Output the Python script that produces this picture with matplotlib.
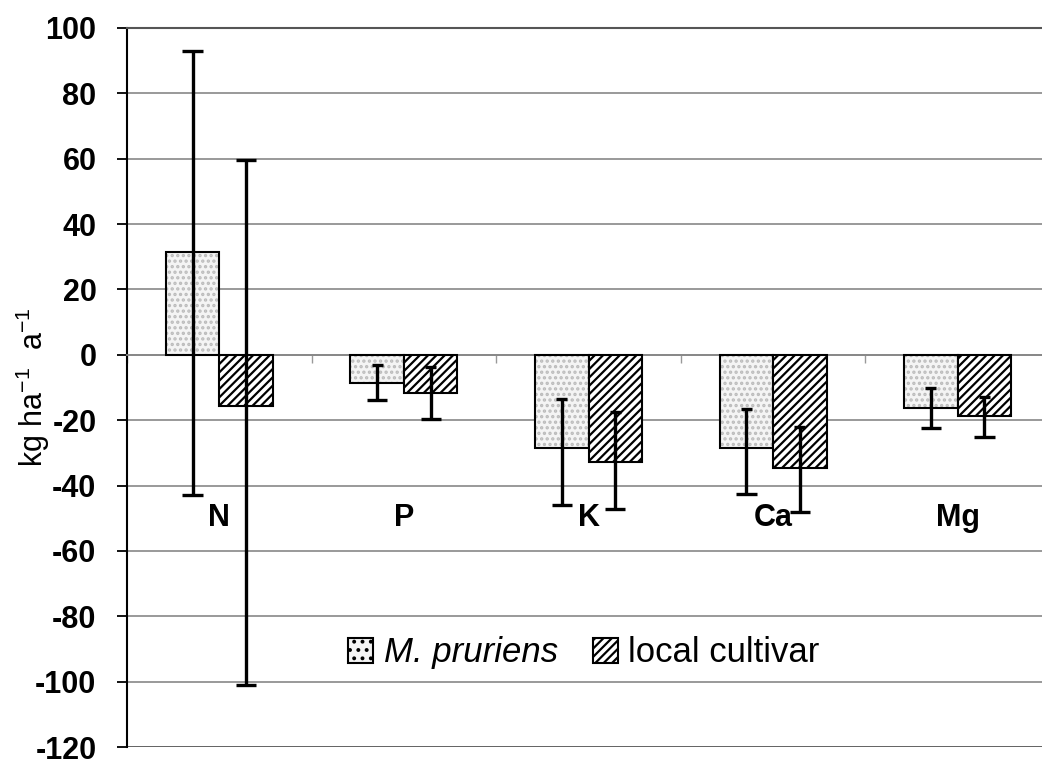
import matplotlib
matplotlib.use("Agg")
import matplotlib.pyplot as plt
import numpy as np

plt.rcParams['font.family'] = ['Liberation Sans', 'DejaVu Sans']
plt.rcParams['mathtext.fontset'] = 'custom'
plt.rcParams['mathtext.rm'] = 'Liberation Sans'
plt.rcParams['mathtext.it'] = 'Liberation Sans:italic'
plt.rcParams['hatch.linewidth'] = 1.6

nutrients = ["N", "P", "K", "Ca", "Mg"]
series = ["M. pruriens", "local cultivar"]

pruriens = [31.5, -8.6, -28.6, -28.6, -16.2]
pruriens_lo = [-43, -13.9, -46, -42.6, -22.4]
pruriens_hi = [93, -3.1, -13.4, -16.7, -10.3]

local = [-15.7, -11.6, -32.8, -34.5, -18.6]
local_lo = [-101, -19.6, -47.2, -48.2, -25.3]
local_hi = [59.6, -3.6, -17.5, -22.2, -12.9]

yticks = list(range(-120, 101, 20))

fig = plt.figure(figsize=(10.42, 7.6), dpi=100)
ax = fig.add_axes([0.1219, 0.0171, 0.8858, 0.9461])

x = np.arange(len(nutrients))
w = 0.29

# stippled bars: light fill with grey dots, then a black outline on top
ax.bar(x - w / 2, pruriens, w, color="#f4f4f4", edgecolor="#bbbbbb",
       hatch="...", linewidth=0, zorder=3)
ax.bar(x - w / 2, pruriens, w, color="none", edgecolor="black",
       linewidth=1.5, zorder=3)
ax.bar(x + w / 2, local, w, color="white", edgecolor="black",
       hatch="////", linewidth=1.5, zorder=3)

# error bars (not symmetric around the bar ends)
for xs, lo, hi in [(x - w / 2, pruriens_lo, pruriens_hi), (x + w / 2, local_lo, local_hi)]:
    ax.vlines(xs, lo, hi, color="black", linewidth=2.4, zorder=4)
    ax.hlines(lo, xs - 0.055, xs + 0.055, color="black", linewidth=2.4, zorder=4)
    top_half = np.array([0.055 if i == 0 else 0.03 for i in range(len(xs))])
    ax.hlines(hi, xs - top_half, xs + top_half, color="black", linewidth=2.4, zorder=4)

ax.set_xlim(-0.5, len(nutrients) - 0.5)
ax.set_ylim(-120, 100)
ax.set_yticks(yticks)
ax.set_yticklabels([str(t) for t in yticks], fontsize=22, fontweight="bold")
ax.tick_params(axis="y", direction="out", length=7, width=1.3, pad=15)

# category axis crossing at zero
ax.spines["bottom"].set_position(("data", 0))
ax.spines["bottom"].set_color("#888888")
ax.spines["bottom"].set_linewidth(1.3)
ax.set_xticks(np.arange(len(nutrients) + 1) - 0.5)
ax.set_xticklabels([])
ax.tick_params(axis="x", direction="out", length=6, width=1.0, color="#999999")
for i, name in enumerate(nutrients):
    ax.text(i, -50, name, ha="center", va="center", fontsize=22, fontweight="bold", zorder=5)

ax.spines["left"].set_linewidth(1.5)
ax.spines["top"].set_color("#555555")
ax.spines["top"].set_linewidth(1.5)
ax.spines["right"].set_visible(False)
ax.grid(axis="y", color="#888888", linewidth=1.2, zorder=0)
ax.axhline(-120, color="#555555", linewidth=1.8, zorder=1)
ax.set_axisbelow(True)

ax.set_ylabel("kg ha$^{-1}$  a$^{-1}$", fontsize=22)
ax.yaxis.set_label_coords(-0.081, 0.5)

handles = [plt.Rectangle((0, 0), 1, 1, facecolor="#f4f4f4", edgecolor="black",
                         hatch="..", linewidth=1.5),
           plt.Rectangle((0, 0), 1, 1, facecolor="white", edgecolor="black",
                         hatch="////", linewidth=1.5)]
leg = ax.legend(handles, series, loc="center", bbox_to_anchor=(0.495, 0.131), ncol=2,
                fontsize=25, frameon=True, edgecolor="none", facecolor="white",
                framealpha=1, handlelength=0.72, handleheight=0.72, columnspacing=1.0,
                handletextpad=0.3, borderpad=0.15)
leg.get_texts()[0].set_fontstyle("italic")
leg.set_zorder(6)

plt.savefig("out.png", dpi=100)
